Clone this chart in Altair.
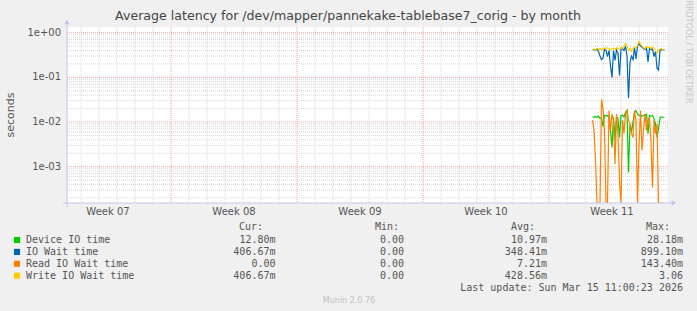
import altair as alt
import pandas as pd

# ---------------- data ----------------
START = pd.Timestamp("2026-02-10 05:20")
END = pd.Timestamp("2026-03-15 14:40")
FIRST_SAMPLE = pd.Timestamp("2026-03-11 10:00")
STEP_HOURS = 2

device_io = [0.0128, 0.0130, 0.0132, 0.0128, 0.0135, 0.0120, 0.0125, 0.0080, 0.0140, 0.0138,
             0.0140, 0.0125, 0.0065, 0.0027, 0.0130, 0.0039, 0.0130, 0.0120, 0.0045, 0.0140,
             0.0142, 0.0130, 0.0165, 0.0183, 0.00074, 0.0090, 0.0060, 0.0100, 0.0165, 0.0180,
             0.0150, 0.0140, 0.0142, 0.0135, 0.0140, 0.0145, 0.0150, 0.0055, 0.0140, 0.0135,
             0.0140, 0.0120, 0.0090, 0.0046, 0.0070, 0.0125, 0.0130, 0.0128, 0.0128]
io_wait = [0.41, 0.42, 0.40, 0.43, 0.38, 0.30, 0.25, 0.27, 0.42, 0.40,
           0.29, 0.40, 0.18, 0.10, 0.40, 0.24, 0.41, 0.35, 0.11, 0.42,
           0.44, 0.40, 0.50, 0.30, 0.034, 0.22, 0.30, 0.25, 0.45, 0.26,
           0.50, 0.58, 0.50, 0.47, 0.44, 0.42, 0.45, 0.22, 0.44, 0.42,
           0.43, 0.29, 0.38, 0.16, 0.146, 0.40, 0.42, 0.41, 0.4067]
read_wait = [0.011, 0.0065, 0.0014, 0, 0, 0, 0.032, 0.020, 0.0065, 0,
             0, 0.018, 0.0065, 0.015, 0.011, 0.00115, 0.015, 0.005, 0.0005, 0,
             0.011, 0.0055, 0.015, 0.018, 0.011, 0.0092, 0.0055, 0.0045, 0.018, 0.011,
             0, 0.003, 0.018, 0.0023, 0.0065, 0.015, 0.0065, 0.011, 0.013, 0.0034,
             0.00034, 0.011, 0.0055, 0.009, 0, 0, 0, 0, 0]
write_wait = [0.42, 0.43, 0.41, 0.45, 0.42, 0.44, 0.40, 0.43, 0.45, 0.44,
              0.46, 0.43, 0.41, 0.44, 0.45, 0.42, 0.46, 0.44, 0.43, 0.47,
              0.45, 0.50, 0.58, 0.50, 0.40, 0.45, 0.38, 0.44, 0.47, 0.45,
              0.52, 0.64, 0.55, 0.50, 0.46, 0.44, 0.49, 0.46, 0.48, 0.44,
              0.47, 0.45, 0.40, 0.35, 0.42, 0.43, 0.44, 0.42, 0.4067]

series_names = ["Device IO time", "IO Wait time", "Read IO Wait time", "Write IO Wait time"]
series_colors = ["#00CC00", "#0066B3", "#FF8000", "#FFCC00"]
cur_vals = ["12.80m", "406.67m", "0.00\u00a0", "406.67m"]
min_vals = ["0.00", "0.00", "0.00", "0.00"]
avg_vals = ["10.97m", "348.41m", "7.21m", "428.56m"]
max_vals = ["28.18m", "899.10m", "143.40m", "3.06\u00a0"]

week_labels = ["Week 07", "Week 08", "Week 09", "Week 10", "Week 11"]
week_label_times = ["2026-02-12 12:00", "2026-02-19 12:00", "2026-02-26 12:00",
                    "2026-03-05 12:00", "2026-03-12 12:00"]
monday_times = ["2026-02-16", "2026-02-23", "2026-03-02", "2026-03-09"]

y_tick_values = [1e-3, 1e-2, 1e-1, 1.0]
y_tick_labels = ["1e-03", "1e-02", "1e-01", "1e+00"]

TITLE = "Average latency for /dev/mapper/pannekake-tablebase7_corig - by month"
LAST_UPDATE = "Last update: Sun Mar 15 11:00:23 2026"
Y_MIN, Y_MAX = 1.54e-4, 1.34


def hrs(ts):
    return (pd.Timestamp(ts) - START) / pd.Timedelta(hours=1)


X_MAX = hrs(END)
xscale = alt.Scale(domain=[0, X_MAX], nice=False, zero=False)
yscale = alt.Scale(type="log", domain=[Y_MIN, Y_MAX], nice=False)

sample_hours = [hrs(FIRST_SAMPLE) + STEP_HOURS * i for i in range(len(device_io))]

# grid data
day_hours = [hrs(d) for d in pd.date_range("2026-02-11", "2026-03-15", freq="D")]
major_x = pd.DataFrame({"h": [hrs(t) for t in monday_times]})
minor_x = pd.DataFrame({"h": [h for h in day_hours if h not in list(major_x["h"])]})
minor_y_vals = [k * 10.0 ** e for e in range(-4, 1) for k in range(2, 10)]
minor_y_vals = [v for v in minor_y_vals if Y_MIN < v < Y_MAX]
minor_y = pd.DataFrame({"v": minor_y_vals})
major_y = pd.DataFrame({"v": y_tick_values})

MAJOR_C = "#F2A0A0"
MINOR_C = "#D6D6D6"


def vrule(df, color):
    return alt.Chart(df).mark_rule(color=color, strokeWidth=1, strokeDash=[1, 1]).encode(
        x=alt.X("h:Q", scale=xscale, axis=None))


def hrule(df, color):
    return alt.Chart(df).mark_rule(color=color, strokeWidth=1, strokeDash=[1, 1]).encode(
        y=alt.Y("v:Q", scale=yscale, axis=None))


layers = [vrule(minor_x, MINOR_C), hrule(minor_y, MINOR_C),
          vrule(major_x, MAJOR_C), hrule(major_y, MAJOR_C)]

for vals, color in zip([device_io, io_wait, read_wait, write_wait], series_colors):
    df = pd.DataFrame({"h": sample_hours,
                       "v": [v if v > 0 else Y_MIN for v in vals]})
    layers.append(alt.Chart(df).mark_line(color=color, strokeWidth=1.2, clip=True).encode(
        x=alt.X("h:Q", scale=xscale, axis=None),
        y=alt.Y("v:Q", scale=yscale, axis=None)))

AXIS_C = "#C4C8EC"
one = pd.DataFrame({"a": [0]})
layers += [
    alt.Chart(one).mark_rule(color=AXIS_C, strokeWidth=1).encode(
        x=alt.value(-4), x2=alt.value(606), y=alt.value(176)),
    alt.Chart(one).mark_rule(color=AXIS_C, strokeWidth=1).encode(
        x=alt.value(0), y=alt.value(180), y2=alt.value(-4)),
    alt.Chart(one).mark_point(shape="triangle-right", filled=True, color=AXIS_C, opacity=1, size=30).encode(
        x=alt.value(607), y=alt.value(176)),
    alt.Chart(one).mark_point(shape="triangle-up", filled=True, color=AXIS_C, opacity=1, size=30).encode(
        x=alt.value(0), y=alt.value(-5)),
]

# tick labels
LABEL_C = "#555555"
ydf = pd.DataFrame({"v": y_tick_values, "t": y_tick_labels})
layers.append(alt.Chart(ydf).mark_text(align="right", baseline="middle", font="DejaVu Sans",
                                       fontSize=10, color=LABEL_C).encode(
    y=alt.Y("v:Q", scale=yscale, axis=None), x=alt.value(-6), text="t:N"))
xdf = pd.DataFrame({"h": [hrs(t) for t in week_label_times], "t": week_labels})
layers.append(alt.Chart(xdf).mark_text(align="center", baseline="middle", font="DejaVu Sans",
                                       fontSize=10, color=LABEL_C).encode(
    x=alt.X("h:Q", scale=xscale, axis=None), y=alt.value(185), text="t:N"))


def text_at(t, x, y, **kw):
    return alt.Chart(pd.DataFrame({"t": [t]})).mark_text(**kw).encode(
        text="t:N", x=alt.value(x), y=alt.value(y))


layers.append(text_at(TITLE, 281, -11.5, font="DejaVu Sans", fontSize=12.6, color="#444444",
                      align="center", baseline="middle"))
layers.append(text_at("seconds", -56, 88, font="DejaVu Sans", fontSize=11, color=LABEL_C,
                      align="center", baseline="middle", angle=270))
layers.append(text_at("RRDTOOL / TOBI OETIKER", 621, 25, font="DejaVu Sans", fontSize=8,
                      color="#C4C4C4", align="center", baseline="middle", angle=90))
layers.append(text_at("Munin 2.0.76", 282, 274, font="DejaVu Sans", fontSize=8,
                      color="#C0C0C0", align="center", baseline="middle"))

# legend table
MONO = dict(font="DejaVu Sans Mono", fontSize=10, color=LABEL_C, baseline="middle")
ROW0, ROWH = 213, 11.9
leg = pd.DataFrame({"name": series_names, "color": series_colors,
                    "cur": cur_vals, "min": min_vals, "avg": avg_vals, "max": max_vals,
                    "ypx": [ROW0 + ROWH * i for i in range(len(series_names))]})
ypx = alt.Y("ypx:Q", scale=None, axis=None)
layers.append(alt.Chart(leg).mark_square(size=38, opacity=1, filled=True).encode(
    x=alt.value(-50), y=ypx, color=alt.Color("color:N", scale=None, legend=None)))
layers.append(alt.Chart(leg).mark_text(align="left", **MONO).encode(
    x=alt.value(-41), y=ypx, text="name:N"))
for field, xr in [("cur", 208.5), ("min", 337), ("avg", 480), ("max", 616)]:
    layers.append(alt.Chart(leg).mark_text(align="right", **MONO).encode(
        x=alt.value(xr), y=ypx, text=f"{field}:N"))
for head, xr in [("Cur:", 196), ("Min:", 332), ("Avg:", 468), ("Max:", 603)]:
    layers.append(text_at(head, xr, 200, align="right", **MONO))
layers.append(text_at(LAST_UPDATE, 616, 261, align="right", **MONO))

chart = alt.layer(*layers).properties(
    width=601, height=176, background="#F0F0F0",
    padding={"left": 67, "top": 27, "right": 29, "bottom": 108},
    autosize=alt.AutoSizeParams(type="none"),
).configure_view(fill="white", stroke=None)

chart.save("out.html", embed_options={"renderer": "svg", "actions": False})
